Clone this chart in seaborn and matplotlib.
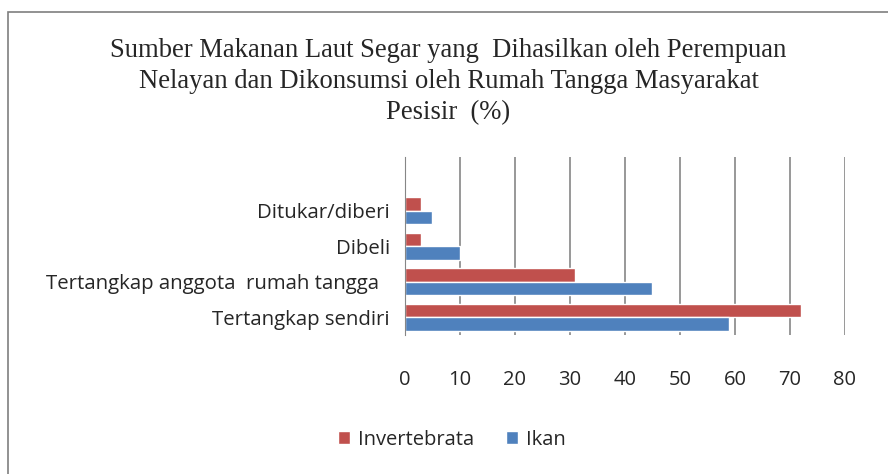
import pandas as pd
import seaborn as sns
import matplotlib.pyplot as plt
from matplotlib.patches import Rectangle

# data
sumber = ["Ditukar/diberi", "Dibeli", "Tertangkap anggota  rumah tangga  ", "Tertangkap sendiri"]
invertebrata = [3, 3, 31, 72]
ikan = [5, 10, 45, 59]
seri = ["Invertebrata", "Ikan"]
warna = ["#C0504D", "#4F81BD"]

df = pd.DataFrame({
    "sumber": sumber * 2,
    "persen": invertebrata + ikan,
    "jenis": [seri[0]] * len(sumber) + [seri[1]] * len(sumber),
})

sns.set_style("white")
plt.rcParams['font.family'] = ['Open Sans', 'DejaVu Sans']

fig = plt.figure(figsize=(8.88, 4.74), dpi=100)
ax = fig.add_axes([0.456, 0.293, 0.4955, 0.375])

sns.barplot(data=df, y="sumber", x="persen", hue="jenis", order=sumber,
            hue_order=seri, palette=warna, width=0.76, orient="h",
            saturation=1, ax=ax, legend=True)

ax.set_xlim(0, 80)
ax.set_ylim(3.5, -1.5)
ax.set_xticks(range(0, 81, 10))
ax.grid(axis="x", color="#868686", linewidth=1.2)
ax.grid(axis="y", visible=False)
ax.set_axisbelow(True)
for s in ["top", "right", "bottom"]:
    ax.spines[s].set_visible(False)
ax.spines["left"].set_color("#868686")
ax.tick_params(axis="x", length=0, pad=25, labelsize=14.5)
ax.tick_params(axis="y", length=0, pad=11, labelsize=14.7)
ax.set_xlabel("")
ax.set_ylabel("")

ax.legend(loc="center", bbox_to_anchor=(0.509, 0.072), bbox_transform=fig.transFigure,
          ncol=2, frameon=False, fontsize=14.5, handlelength=0.6, handleheight=0.6,
          handletextpad=0.4, columnspacing=1.6)

fig.text(0.505, 0.92,
         "Sumber Makanan Laut Segar yang  Dihasilkan oleh Perempuan\n"
         "Nelayan dan Dikonsumsi oleh Rumah Tangga Masyarakat\n"
         "Pesisir  (%)",
         ha="center", va="top", fontsize=19.2, family="Liberation Serif",
         linespacing=1.32)

fig.patches.append(Rectangle((0.009, -0.01), 1.0, 0.985, transform=fig.transFigure,
                             fill=False, edgecolor="#7f7f7f", linewidth=1.2))

fig.savefig("out.png", dpi=100)
